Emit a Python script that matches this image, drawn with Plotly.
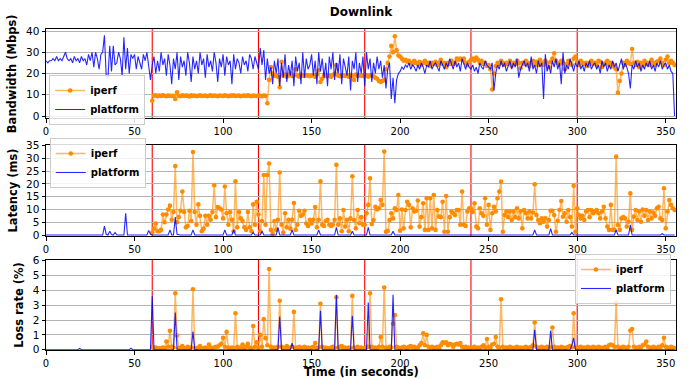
import plotly.graph_objects as go

# ---------------- data ----------------
time_platform = list(range(0, 356))
time_iperf = list(range(60, 356))

platform_bw = [
    26, 25, 26, 26, 27, 26, 28, 26, 27, 26,
    28, 30, 27, 26, 27, 25, 28, 26, 27, 25,
    28, 26, 27, 24, 29, 26, 30, 23, 30, 27,
    22, 29, 30, 38, 19, 18, 33, 21, 33, 24,
    25, 30, 27, 19, 37, 22, 32, 20, 29, 27,
    29, 22, 28, 25, 22, 29, 26, 30, 24, 17,
    24, 28, 20, 26, 21, 30, 24, 27, 19, 29,
    24, 15, 27, 22, 30, 17, 28, 23, 26, 19,
    30, 25, 16, 28, 22, 26, 20, 30, 24, 27,
    18, 29, 23, 26, 21, 30, 25, 16, 27, 23,
    29, 19, 28, 24, 26, 15, 29, 22, 27, 25,
    20, 28, 24, 26, 21, 29, 27, 22, 28, 25,
    22, 32, 24, 31, 17, 27, 20, 23, 15, 26,
    20, 27, 14, 25, 18, 29, 16, 24, 19, 26,
    14, 28, 21, 25, 15, 30, 18, 27, 22, 24,
    29, 19, 26, 15, 30, 21, 27, 18, 25, 14,
    28, 22, 30, 17, 25, 20, 29, 15, 27, 23,
    19, 28, 12, 26, 22, 30, 16, 25, 20, 28,
    14, 30, 22, 27, 16, 25, 20, 28, 22, 26,
    18, 24, 13, 22, 25, 8, 18, 6, 17, 20,
    21, 23, 22, 24, 23, 25, 22, 24, 23, 21,
    24, 22, 25, 23, 20, 24, 23, 26, 22, 24,
    25, 23, 21, 26, 24, 22, 25, 23, 27, 24,
    22, 26, 23, 25, 21, 27, 24, 22, 25, 23,
    22, 24, 21, 23, 20, 25, 23, 22, 26, 24,
    23, 22, 25, 12, 20, 24, 22, 26, 23, 25,
    21, 24, 26, 22, 25, 23, 27, 18, 22, 24,
    26, 23, 25, 21, 28, 22, 24, 20, 26, 23,
    25, 8, 29, 21, 24, 20, 26, 23, 27, 22,
    25, 15, 30, 20, 24, 22, 27, 24, 21, 25,
    23, 26, 22, 24, 21, 25, 23, 26, 22, 24,
    25, 22, 24, 20, 26, 23, 25, 21, 24, 22,
    26, 23, 25, 21, 24, 27, 22, 25, 23, 20,
    13, 24, 22, 26, 23, 25, 21, 24, 22, 25,
    23, 26, 22, 24, 21, 25, 23, 26, 22, 24,
    25, 22, 24, 21, 20, 0,
]

iperf_bw = [
    7.2, 9.5, 9.8, 9.3, 9.6, 9.4, 9.7, 9.5, 9.3, 9.6,
    9.5, 9.4, 9.5, 8.0, 11.2, 9.5, 9.3, 9.8, 9.4, 9.6,
    9.5, 9.2, 9.7, 9.4, 9.6, 9.3, 9.5, 9.8, 9.4, 9.5,
    9.6, 9.3, 9.5, 9.7, 9.4, 9.6, 9.5, 9.3, 9.6, 9.5,
    9.4, 9.8, 9.5, 9.3, 9.6, 9.5, 9.7, 9.4, 9.5, 9.6,
    9.3, 9.5, 9.6, 9.4, 9.7, 9.5, 9.3, 9.6, 9.5, 9.4,
    9.6, 9.5, 9.3, 9.6, 9.5, 6.0, 17.0, 23.0, 20.0, 19.0,
    19.0, 18.5, 13.5, 25.5, 19.0, 19.5, 18.5, 19.0, 20.0, 18.8,
    19.2, 22.0, 19.0, 18.5, 19.5, 19.0, 18.8, 19.3, 19.0, 18.7,
    19.2, 19.0, 18.5, 19.5, 21.5, 16.0, 17.5, 19.0, 18.8, 19.2,
    19.0, 18.5, 19.3, 20.0, 24.0, 19.0, 18.7, 19.2, 19.0, 18.8,
    19.1, 18.5, 19.3, 19.0, 17.0, 19.5, 18.8, 19.2, 19.0, 18.9,
    19.0, 19.2, 18.5, 19.0, 19.3, 18.7, 18.0, 17.5, 16.5, 16.0,
    16.5, 17.0, 22.0, 25.0, 28.0, 33.0, 30.0, 37.5, 31.0, 28.5,
    28.0, 27.0, 26.0, 26.5, 25.5, 26.0, 25.0, 24.5, 26.0, 25.0,
    24.5, 25.5, 24.0, 25.0, 26.0, 24.5, 25.0, 23.5, 25.0, 24.5,
    25.5, 24.0, 25.0, 26.5, 24.5, 25.0, 23.0, 25.0, 24.5, 26.0,
    24.5, 25.0, 27.0, 26.5, 27.0, 26.5, 27.0, 25.0, 24.0, 25.5,
    26.5, 27.0, 26.0, 27.5, 26.5, 25.0, 26.0, 24.5, 25.0, 23.5,
    24.0, 22.0, 12.5, 20.0, 23.5, 25.0, 24.5, 26.0, 25.0, 24.0,
    25.0, 24.5, 26.0, 23.5, 25.0, 24.5, 26.0, 25.0, 22.5, 25.0,
    24.5, 26.0, 25.0, 23.5, 25.0, 26.0, 24.0, 25.5, 24.0, 26.5,
    25.0, 24.0, 26.0, 25.0, 23.0, 25.5, 27.0, 29.5, 26.0, 25.0,
    24.5, 26.0, 25.0, 22.0, 24.5, 26.0, 25.0, 24.0, 27.0, 28.0,
    25.5, 24.0, 26.0, 25.0, 24.5, 25.0, 23.5, 25.0, 26.0, 24.5,
    25.0, 24.0, 26.0, 25.5, 23.0, 24.5, 25.0, 26.0, 24.0, 25.0,
    24.5, 23.0, 22.0, 11.0, 16.5, 20.0, 25.0, 24.0, 26.0, 25.0,
    24.5, 31.5, 25.0, 24.0, 25.5, 23.0, 25.0, 24.0, 26.0, 24.5,
    25.0, 24.0, 26.5, 25.0, 24.0, 25.5, 26.0, 27.0, 25.0, 24.0,
    26.5, 28.0, 25.0, 26.0, 25.0, 24.0,
]

platform_lat = [
    0, 0, 0, 0, 0, 0, 0, 0, 0, 0,
    0, 0, 0, 0, 0, 0, 0, 0, 0, 0,
    0, 0, 0, 0, 0, 0, 0, 0, 0, 0,
    0, 0, 0, 3.5, 0.3, 0, 1.5, 0.2, 0, 1.0,
    0, 0, 0, 0, 0, 8.5, 0, 0, 0, 0,
    0, 0, 0, 0, 0, 0, 0, 0, 1.8, 0.3,
    0, 0, 0, 0, 0, 0, 0, 0, 0, 0,
    2.0, 0, 0, 7.0, 0.3, 0, 0, 0, 0, 0,
    0, 0, 0, 2.0, 0, 0, 0, 0, 0, 0,
    0, 0, 0, 0, 0, 0, 0, 0, 0, 0,
    0, 2.0, 0, 0, 0, 0, 2.0, 0, 0, 0,
    0, 0, 0, 0, 0, 0, 0, 1.0, 0, 0,
    0, 0, 1.5, 0, 0, 0, 0, 0, 0, 0,
    0, 3.0, 0, 0, 0, 0, 0, 0, 0, 2.0,
    0, 0, 0, 0, 0, 0, 0, 0, 0, 0,
    0, 0, 0, 0, 2.0, 0, 0, 0, 0, 0,
    0, 0, 0, 0, 3.0, 0, 0, 0, 0, 0,
    0, 0, 0, 1.5, 0, 0, 0, 0, 0, 0,
    0, 0, 3.0, 0, 0, 0, 0, 0, 0, 0,
    0, 0, 0, 0, 0, 0, 1.5, 0, 0, 0,
    0, 0, 0, 0, 0, 0, 0, 0, 0, 0,
    0, 0, 0, 0, 0, 0, 0, 0, 0, 0,
    0, 0, 0, 0, 0, 0, 0, 0, 0, 0,
    0, 0, 0, 0, 0, 0, 0, 0, 0, 0,
    0, 0, 0, 0, 0, 0, 0, 0, 0, 0,
    0, 0, 0, 0, 0, 0, 0, 0, 0, 0,
    0, 0, 0, 0, 0, 0, 0, 0, 0, 0,
    0, 0, 0, 0, 0, 0, 2.0, 0, 0, 0,
    0, 0, 0, 0, 0, 2.5, 0, 0, 0, 0,
    0, 0, 0, 0, 0, 0, 0, 1.0, 0, 0,
    0, 0, 0, 0, 0, 0, 0, 0, 0, 0,
    0, 0, 0, 0, 0, 0, 0, 0, 0, 0,
    0, 0, 2.0, 0, 0, 0, 0, 0, 0, 0,
    4.0, 0, 0, 0, 0, 0, 0, 0, 0, 0,
    0, 0, 0, 0, 0, 0, 0, 0, 0.5, 0,
    0, 0, 0, 0, 0, 0,
]

iperf_lat = [
    1.0, 2.5, 4.5, 1.5, 1.5, 2.0, 8.0, 5.0, 8.0, 10.0,
    11.5, 6.0, 9.0, 27.0, 5.0, 7.0, 9.5, 17.0, 9.0, 3.0,
    3.5, 9.5, 5.5, 32.5, 9.0, 4.0, 12.0, 7.5, 1.5, 2.5,
    7.5, 4.0, 7.5, 6.0, 9.0, 19.5, 7.0, 11.0, 10.5, 10.0,
    6.5, 19.0, 8.5, 4.0, 9.0, 6.0, 1.5, 21.0, 3.0, 9.0,
    6.5, 5.5, 3.0, 2.0, 9.0, 3.0, 1.5, 12.0, 4.0, 13.0,
    8.0, 1.5, 5.5, 23.5, 4.0, 23.5, 28.0, 2.0, 0.5, 5.5,
    2.0, 6.0, 24.5, 4.0, 1.0, 8.5, 3.0, 6.0, 2.5, 6.0,
    12.5, 2.0, 4.0, 9.5, 7.5, 8.0, 9.5, 4.5, 3.5, 6.0,
    4.5, 6.0, 11.0, 3.0, 6.0, 21.0, 4.0, 3.5, 5.5, 6.0,
    4.0, 3.5, 4.0, 6.0, 27.5, 4.0, 6.5, 1.5, 9.8, 3.3,
    6.0, 1.5, 6.5, 23.0, 5.9, 2.6, 9.8, 4.6, 7.0, 4.0,
    4.0, 8.5, 11.8, 22.2, 4.3, 5.9, 11.1, 10.0, 10.5, 13.7,
    11.8, 32.7, 1.3, 1.6, 5.9, 8.5, 6.5, 10.5, 9.8, 15.7,
    1.7, 10.0, 2.6, 9.8, 13.0, 11.8, 3.0, 10.5, 9.2, 9.5,
    13.5, 3.3, 7.0, 12.4, 2.0, 14.4, 2.0, 14.4, 2.6, 15.7,
    2.0, 9.8, 7.2, 7.0, 13.0, 1.3, 15.3, 1.3, 7.0, 9.2,
    8.5, 7.8, 9.8, 9.8, 4.0, 17.0, 4.0, 3.5, 9.2, 10.5,
    10.5, 9.0, 12.4, 3.3, 2.6, 10.5, 8.5, 7.5, 14.4, 4.0,
    11.8, 2.0, 8.5, 11.1, 9.2, 14.4, 17.0, 20.9, 1.3, 7.8,
    9.2, 7.0, 9.2, 5.9, 9.2, 7.0, 10.5, 6.5, 9.2, 2.6,
    9.8, 8.5, 6.5, 9.2, 6.5, 8.8, 19.9, 7.8, 5.9, 4.6,
    6.5, 5.2, 6.5, 3.3, 5.9, 9.5, 9.5, 7.8, 1.3, 5.6,
    9.8, 13.3, 7.2, 8.5, 5.2, 9.8, 7.0, 3.3, 19.3, 1.3,
    10.5, 7.8, 6.5, 7.5, 5.9, 9.2, 9.8, 7.0, 9.8, 8.5,
    9.2, 9.8, 8.5, 6.5, 9.2, 11.1, 6.5, 3.3, 2.0, 11.8,
    2.0, 2.0, 30.7, 3.9, 2.0, 6.5, 7.0, 6.5, 3.3, 5.2,
    16.3, 2.0, 7.2, 9.8, 5.9, 9.2, 5.2, 10.0, 7.5, 9.8,
    5.9, 9.2, 6.5, 8.8, 7.5, 10.5, 11.1, 6.5, 5.9, 18.3,
    2.6, 9.2, 13.7, 11.8, 10.5, 9.8,
]

platform_loss = [
    0, 0, 0, 0, 0, 0, 0, 0, 0.05, 0,
    0, 0, 0, 0, 0, 0, 0, 0, 0, 0.08,
    0, 0, 0, 0, 0, 0, 0, 0, 0, 0,
    0, 0, 0, 0, 0, 0, 0, 0, 0, 0,
    0, 0, 0, 0, 0, 0, 0, 0, 0.1, 0,
    0, 0, 0, 0, 0, 0, 0, 0, 0, 0,
    3.6, 0, 0, 0, 0, 0, 0, 0, 0, 0,
    0, 0, 0, 2.5, 0, 0, 0, 0, 0, 0,
    0, 0, 0, 1.23, 0, 0, 0, 0, 0, 0,
    0, 0, 0, 0, 0, 0, 0, 0, 0, 0,
    0, 0, 0, 0, 0, 0, 0, 0, 0, 0,
    0, 0, 0, 0, 0, 0, 0, 0, 0, 0,
    0, 0, 0, 0, 0, 0, 0, 0, 0, 0,
    0, 0, 2.24, 0, 0, 0, 0, 0, 0, 0.45,
    0, 0, 0, 0, 0, 0, 0, 0, 0, 0,
    0, 0, 0, 0, 0, 2.62, 0, 0, 0, 0,
    0, 0, 0, 0, 3.7, 0, 0, 0, 0, 0,
    0, 0, 0, 2.28, 0, 0, 0, 0, 0, 0,
    0, 0, 3.18, 0, 0, 0, 0, 0, 0, 0,
    0, 0, 0, 0, 0, 0, 3.7, 0, 0, 0,
    0, 0, 0, 0, 0, 0, 0, 0, 0, 0,
    0, 0, 0, 0, 0, 0, 0, 0, 0, 0,
    0, 0, 0, 0, 0, 0, 0, 0, 0, 0,
    0, 0, 0, 0, 0, 0, 0, 0, 0, 0,
    0, 0, 0, 0, 0, 0, 0, 0, 0, 0,
    0, 0, 0, 0, 0, 0, 0, 0, 0, 0,
    0, 0, 0, 0, 0, 0, 0, 0, 0, 0,
    0, 0, 0, 0, 0, 0, 1.35, 0, 0, 0,
    0, 0, 0, 0, 0, 1.3, 0, 0, 0, 0,
    0, 0, 0, 0, 0, 0, 0, 0.3, 0.8, 0,
    0, 0, 0, 0, 0, 0, 0, 0, 0, 0,
    0, 0, 0, 0, 0, 0, 0, 0, 0, 0,
    0, 0, 0, 0, 0, 0, 0, 0, 0, 0,
    0, 0, 0, 0, 0, 0, 0, 0, 0, 0,
    0, 0, 0, 0, 0, 0, 0, 0, 0, 0,
    0, 0, 0, 0, 0, 0,
]

iperf_loss = [
    0.2, 0.1, 0.15, 0.1, 0.1, 0.1, 0.15, 0.1, 0.55, 0.2,
    1.27, 0.2, 0.15, 3.8, 0.95, 0.1, 0.15, 0.25, 0.1, 0.1,
    0.2, 0.1, 0.15, 4.08, 0.1, 0.1, 0.15, 0.25, 0.1, 0.1,
    0.15, 0.1, 0.35, 0.15, 0.1, 0.15, 0.2, 0.2, 0.3, 0.4,
    0.8, 0.2, 1.2, 0.15, 0.1, 0.15, 0.1, 2.46, 0.2, 0.1,
    0.15, 0.35, 0.1, 0.2, 0.4, 0.15, 0.1, 1.6, 0.2, 0.5,
    0.15, 1.0, 0.2, 2.06, 0.78, 0.3, 5.44, 0.2, 0.1, 0.15,
    0.1, 0.2, 3.3, 0.2, 0.1, 0.15, 0.25, 0.1, 0.15, 0.2,
    2.55, 0.15, 0.1, 0.2, 0.1, 0.15, 0.2, 0.1, 0.15, 0.1,
    0.15, 0.2, 0.45, 0.1, 0.15, 3.1, 0.2, 0.1, 0.15, 0.1,
    0.1, 0.15, 0.2, 0.1, 3.54, 0.15, 0.2, 0.25, 0.1, 0.15,
    0.1, 0.15, 0.1, 3.63, 0.15, 0.1, 0.2, 0.1, 0.15, 0.1,
    0.1, 0.15, 0.2, 3.8, 0.2, 0.1, 0.15, 0.1, 0.2, 0.85,
    0.2, 4.19, 0.15, 0.1, 0.2, 0.15, 1.75, 2.33, 0.2, 0.15,
    0.1, 0.15, 0.2, 0.15, 0.1, 0.2, 0.25, 0.15, 0.2, 0.1,
    0.15, 0.3, 0.45, 1.1, 0.3, 1.0, 0.2, 0.15, 0.2, 0.1,
    0.15, 0.2, 0.1, 0.3, 0.5, 0.45, 0.5, 0.3, 0.4, 0.35,
    0.2, 0.35, 0.4, 0.35, 0.45, 0.2, 0.15, 0.2, 0.1, 0.15,
    0.1, 0.15, 0.2, 0.1, 0.15, 0.1, 0.2, 0.3, 0.15, 0.72,
    0.2, 0.15, 0.35, 0.4, 0.85, 0.2, 0.15, 3.4, 0.2, 0.1,
    0.15, 0.1, 0.2, 0.15, 0.1, 0.15, 0.2, 0.1, 0.15, 0.1,
    0.15, 0.2, 0.1, 0.15, 0.2, 0.3, 1.83, 0.2, 0.1, 0.15,
    0.2, 0.1, 0.15, 0.2, 0.1, 0.15, 1.5, 0.2, 0.1, 0.15,
    0.1, 0.2, 0.15, 0.1, 0.15, 0.2, 0.25, 0.15, 2.46, 0.2,
    0.1, 0.15, 0.2, 0.1, 0.15, 0.1, 0.2, 0.15, 0.1, 0.2,
    0.15, 0.1, 0.2, 0.15, 0.1, 0.15, 0.2, 0.1, 0.3, 0.35,
    0.3, 0.2, 3.18, 0.2, 0.1, 0.15, 0.2, 0.15, 0.1, 0.2,
    1.3, 1.4, 0.2, 0.15, 0.1, 0.2, 0.15, 0.3, 0.35, 0.55,
    0.2, 0.15, 0.1, 0.2, 0.15, 0.1, 0.2, 0.15, 0.3, 0.8,
    0.2, 0.15, 0.1, 0.2, 0.15, 0.1,
]

phase_marks = [60, 120, 180, 240, 300]
x_ticks = [0, 50, 100, 150, 200, 250, 300, 350]
bw_ticks = [0, 10, 20, 30, 40]
lat_ticks = [0, 5, 10, 15, 20, 25, 30, 35]
loss_ticks = [0, 1, 2, 3, 4, 5, 6]

# ---------------- layout geometry ----------------
W, H = 688, 379
ML, MR, MT, MB = 46, 12, 29, 29
PH = H - MT - MB
FONT = "DejaVu Sans"


def ydom(top_px, bottom_px):
    return [(H - MB - bottom_px) / PH, min(1.0, (H - MB - top_px) / PH)]


IPERF_LINE = "rgba(255,140,0,0.62)"
IPERF_MARK = "#ff8c00"
PLAT_LINE = "rgba(0,0,255,0.85)"

fig = go.Figure()

panels = [
    (platform_bw, iperf_bw, "x", "y", "legend"),
    (platform_lat, iperf_lat, "x2", "y2", "legend2"),
    (platform_loss, iperf_loss, "x3", "y3", "legend3"),
]
for pv, iv, xa, ya, lg in panels:
    fig.add_trace(go.Scatter(
        x=time_iperf, y=iv, xaxis=xa, yaxis=ya, legend=lg, name="iperf",
        mode="lines+markers",
        line=dict(color=IPERF_LINE, width=1.5),
        marker=dict(color=IPERF_MARK, size=4.6, line=dict(width=0)),
    ))
    fig.add_trace(go.Scatter(
        x=time_platform, y=pv, xaxis=xa, yaxis=ya, legend=lg, name="platform",
        mode="lines", line=dict(color=PLAT_LINE, width=1.1),
    ))
    for m in phase_marks:
        fig.add_shape(type="line", xref=xa, yref=ya + " domain", x0=m, x1=m,
                      y0=0, y1=1, line=dict(color="red", width=1.1),
                      layer="below")

tickfont = dict(family=FONT, size=10.5, color="black")
xtickfont = dict(family=FONT, size=10, color="black")
titlefont = dict(family=FONT, size=11.5, color="black", weight="bold")
common = dict(showline=True, linecolor="black", linewidth=1, mirror=True,
              ticks="outside", ticklen=3.5, tickwidth=1, tickcolor="black",
              tickfont=tickfont, zeroline=False, automargin=False)

xcommon = dict(common, range=[0, 355.8], tickvals=x_ticks, showgrid=False,
               tickfont=xtickfont)
ycommon = dict(common, showgrid=True, gridcolor="#b4b4b4", gridwidth=1)

legend_style = dict(font=dict(family=FONT, size=10, color="black", weight="bold"),
                    bgcolor="rgba(255,255,255,0.85)", bordercolor="#cccccc",
                    borderwidth=1, itemwidth=30, tracegroupgap=0)

fig.update_layout(
    width=W, height=H,
    margin=dict(l=ML, r=MR, t=MT, b=MB, autoexpand=False),
    paper_bgcolor="white", plot_bgcolor="white",
    title=dict(text="Downlink", x=0.5, xref="paper", xanchor="center",
               y=1 - 12 / H, yref="container", yanchor="middle", automargin=False,
               font=dict(family=FONT, size=12, color="black", weight="bold")),
    xaxis=dict(xcommon, anchor="y"),
    xaxis2=dict(xcommon, anchor="y2"),
    xaxis3=dict(xcommon, anchor="y3"),
    yaxis=dict(ycommon, anchor="x", domain=ydom(29.3, 118.3), range=[-1.08, 40.8],
               tickvals=bw_ticks,
               title=dict(text="Bandwidth (Mbps)", font=titlefont, standoff=6)),
    yaxis2=dict(ycommon, anchor="x2", domain=ydom(145, 236), range=[-0.39, 35.27],
                tickvals=lat_ticks,
                title=dict(text="Latency (ms)", font=titlefont, standoff=6)),
    yaxis3=dict(ycommon, anchor="x3", domain=ydom(260, 350), range=[-0.02, 6.05],
                tickvals=loss_ticks,
                title=dict(text="Loss rate (%)", font=titlefont, standoff=6)),
    legend=dict(legend_style, x=0.005, y=(H - MB - 100) / PH, xanchor="left", yanchor="middle"),
    legend2=dict(legend_style, x=0.006, y=(H - MB - 163) / PH, xanchor="left", yanchor="middle"),
    legend3=dict(legend_style, x=0.992, y=(H - MB - 279) / PH, xanchor="right", yanchor="middle"),
    showlegend=True,
    annotations=[dict(text="Time (in seconds)", xref="paper", yref="paper",
                      x=0.5, y=(H - MB - 372) / PH, xanchor="center", yanchor="middle",
                      showarrow=False, font=titlefont)],
)

fig.write_html("out.html", config={"displayModeBar": False},
               post_script="document.body.style.margin='0px';")
